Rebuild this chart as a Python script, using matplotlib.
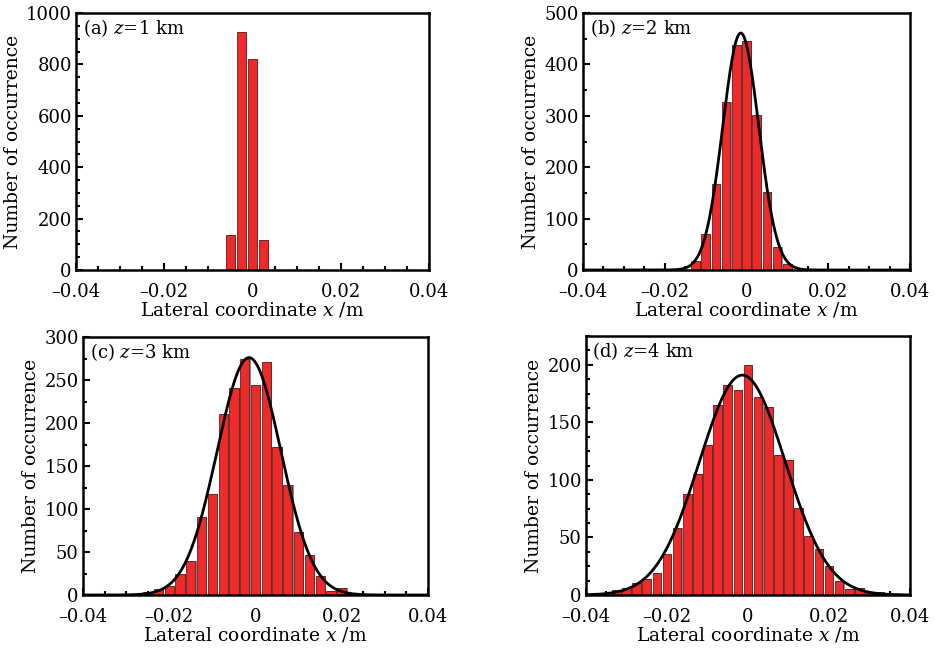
import matplotlib
matplotlib.use('Agg')
import matplotlib.pyplot as plt
from matplotlib.ticker import MultipleLocator, FuncFormatter
import numpy as np

plt.rcParams['font.family'] = 'DejaVu Serif'
plt.rcParams['mathtext.fontset'] = 'dejavuserif'

# bin centres (m) and counts
x_a = [-0.005, -0.0025, 0.0, 0.0025]
n_a = [135, 925, 820, 115]

x_b = [-0.0125, -0.01, -0.0075, -0.005, -0.0025, 0.0, 0.0025, 0.005, 0.0075, 0.01]
n_b = [17, 70, 167, 326, 438, 445, 301, 151, 44, 12]

x_c = [-0.025, -0.0225, -0.02, -0.0175, -0.015, -0.0125, -0.01, -0.0075, -0.005, -0.0025,
       0.0, 0.0025, 0.005, 0.0075, 0.01, 0.0125, 0.015, 0.0175, 0.02, 0.0225]
n_c = [3, 7, 11, 25, 40, 91, 118, 211, 241, 274, 244, 271, 172, 128, 73, 46, 22, 5, 8, 2]

x_d = [-0.0325, -0.03, -0.0275, -0.025, -0.0225, -0.02, -0.0175, -0.015, -0.0125, -0.01,
       -0.0075, -0.005, -0.0025, 0.0, 0.0025, 0.005, 0.0075, 0.01, 0.0125, 0.015,
       0.0175, 0.02, 0.0225, 0.025, 0.0275, 0.03, 0.0325]
n_d = [4, 6, 10, 14, 19, 36, 58, 88, 105, 130, 165, 182, 178, 200, 172, 163, 122, 117,
       76, 51, 40, 25, 12, 5, 6, 2, 3]

# gaussian fits: (peak, centre, sigma)
fit_b = (461, -0.0014, 0.0044)
fit_c = (276, -0.0015, 0.0074)
fit_d = (191, -0.0014, 0.0106)

labels = ['(a) $z$=1 km', '(b) $z$=2 km', '(c) $z$=3 km', '(d) $z$=4 km']
ylims = [1000, 500, 300, 225]
ymajor = [200, 100, 50, 50]
yminor = [50, 50, 25, 12.5]

W, H = 935, 648
boxes = [(76, 13, 429, 270), (583, 13, 910, 270), (83, 337, 428, 595), (586, 336, 910, 595)]

fig = plt.figure(figsize=(W / 100, H / 100), dpi=100)

data = [(x_a, n_a, None), (x_b, n_b, fit_b), (x_c, n_c, fit_c), (x_d, n_d, fit_d)]
binw = 0.0025

def fmt(v, pos):
    if abs(v) < 1e-9:
        return '0'
    s = '%.2f' % v
    return s.replace('-', '\u2013')

for i, (xs, ns, fit) in enumerate(data):
    l, t, r, b = boxes[i]
    ax = fig.add_axes([l / W, 1 - b / H, (r - l) / W, (b - t) / H])
    xs = np.array(xs)
    # shadow
    ax.bar(xs + 0.00028, ns, width=binw * 0.85, color='#8a8a8a', linewidth=0, zorder=1)
    ax.bar(xs, ns, width=binw * 0.85, color='#ee2a2a', edgecolor='#5a2020', linewidth=0.6, zorder=2)
    if fit is not None:
        amp, mu, sig = fit
        xx = np.linspace(-0.04, 0.04, 800)
        ax.plot(xx, amp * np.exp(-(xx - mu) ** 2 / (2 * sig ** 2)), color='black', lw=2, zorder=3)
    ax.set_xlim(-0.04, 0.04)
    ax.set_ylim(0, ylims[i])
    ax.xaxis.set_major_locator(MultipleLocator(0.02))
    ax.xaxis.set_minor_locator(MultipleLocator(0.005))
    ax.xaxis.set_major_formatter(FuncFormatter(fmt))
    ax.yaxis.set_major_locator(MultipleLocator(ymajor[i]))
    ax.yaxis.set_minor_locator(MultipleLocator(yminor[i]))
    ax.tick_params(which='both', direction='in', top=False, right=False, width=1.5, labelsize=13)
    ax.tick_params(which='major', length=5)
    ax.tick_params(which='minor', length=3)
    ax.tick_params(axis='x', which='major', pad=9)
    ax.tick_params(axis='y', which='major', pad=3)
    for sp in ax.spines.values():
        sp.set_linewidth(1.8)
    ax.set_xlabel('Lateral coordinate $x$ /m', fontsize=13.5, labelpad=0)
    ax.set_ylabel('Number of occurrence', fontsize=13.5, labelpad=3)
    ax.text(0.02, 0.985, labels[i], transform=ax.transAxes, fontsize=13, va='top', ha='left')

fig.savefig('out.png', dpi=100)
